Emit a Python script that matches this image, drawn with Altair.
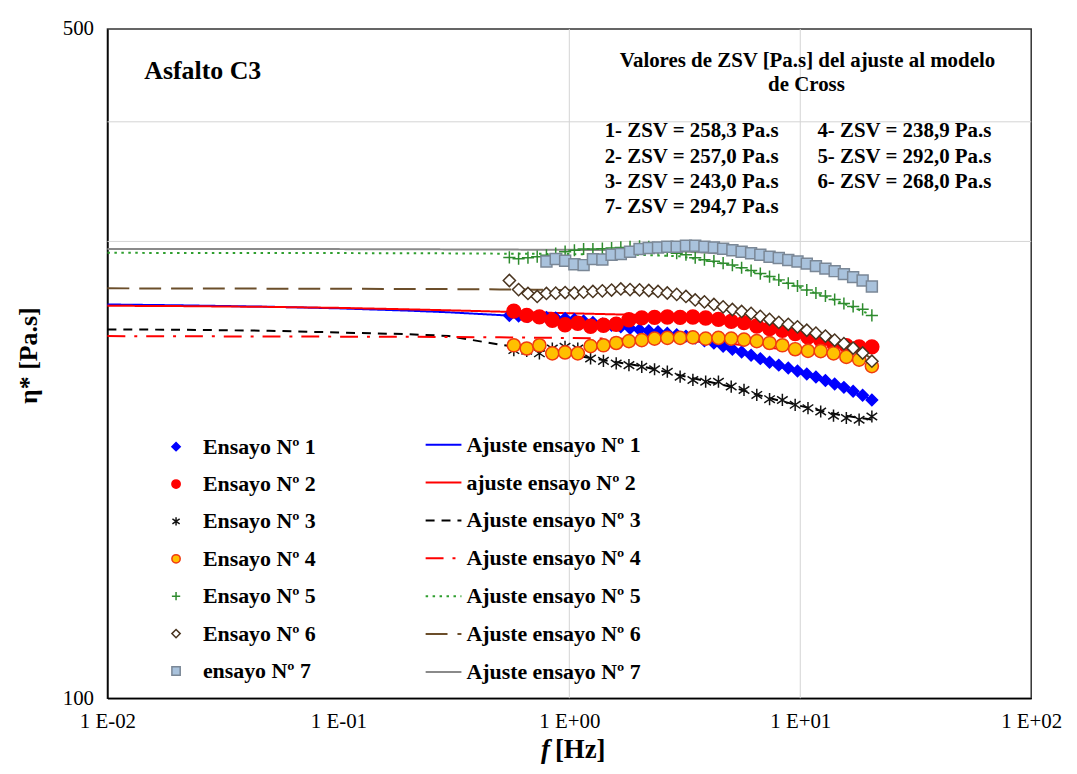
import altair as alt
import pandas as pd

# ---------------- data ----------------
# frequencies [Hz] of the measured points
F29 = [0.575, 0.654, 0.742, 0.844, 0.958, 1.088, 1.236, 1.405, 1.596, 1.812,
       2.059, 2.339, 2.657, 3.018, 3.428, 3.894, 4.423, 5.023, 5.707, 6.482,
       7.364, 8.366, 9.504, 10.80, 12.26, 13.93, 15.83, 17.98, 20.42]
F40 = [0.550, 0.603, 0.662, 0.726, 0.796, 0.873, 0.959, 1.052, 1.153, 1.265,
       1.390, 1.524, 1.671, 1.832, 2.014, 2.208, 2.421, 2.655, 2.917, 3.199,
       3.508, 3.846, 4.227, 4.634, 5.082, 5.572, 6.124, 6.714, 7.362, 8.072,
       8.872, 9.727, 10.67, 11.69, 12.85, 14.09, 15.45, 16.94, 18.62, 20.42]

S1 = [251.1, 250.8, 250.5, 250.2, 249.9, 249.6, 249.3, 248.7, 247.8, 246.9,
      246.0, 245.2, 244.3, 243.4, 242.6, 242.0, 241.4, 240.6, 239.7, 238.9,
      237.8, 236.3, 234.9, 233.2, 231.5, 229.9, 228.2, 226.3, 224.4, 222.8,
      221.3, 219.7, 218.1, 216.5, 214.7, 212.9, 211.2, 209.2, 207.2, 204.9]
S2 = [253.7, 251.1, 250.2, 248.1, 245.5, 246.4, 244.6, 245.2, 245.8, 248.5,
      249.6, 249.9, 250.1, 249.9, 250.1, 249.5, 248.7, 247.5, 246.8, 244.8,
      243.3, 242.3, 240.4, 238.4, 236.6, 234.7, 233.4, 232.8, 232.8]
S3 = [231.0, 230.6, 229.2, 231.9, 232.8, 231.9, 226.4, 225.1, 223.7, 222.8,
      221.9, 220.6, 219.3, 216.7, 215.0, 214.1, 214.1, 211.6, 209.9, 207.4,
      205.3, 204.9, 202.5, 200.9, 199.3, 197.3, 196.2, 195.4, 196.9]
S4 = [233.7, 231.9, 233.7, 229.2, 229.7, 229.2, 233.2, 233.7, 235.0, 236.0,
      236.6, 237.5, 237.9, 237.9, 238.2, 237.5, 237.9, 237.5, 236.9, 236.0,
      235.0, 233.7, 231.5, 230.6, 230.4, 229.2, 227.3, 225.8, 222.3]
S5 = [288.7, 287.8, 288.5, 289.2, 290.2, 291.3, 292.7, 293.7, 294.6, 294.6,
      294.8, 295.3, 295.7, 296.2, 296.5, 296.2, 294.8, 293.4, 291.6, 290.6,
      288.5, 287.1, 286.1, 284.7, 283.4, 281.6, 279.7, 277.7, 275.7, 273.5,
      271.3, 269.5, 266.9, 265.0, 263.1, 260.9, 258.4, 256.6, 254.8, 251.1]
S6 = [273.1, 267.2, 264.7, 262.8, 264.7, 264.9, 265.3, 265.0, 265.5, 266.0,
      266.4, 266.9, 267.6, 267.2, 267.0, 266.6, 266.0, 265.0, 264.1, 262.8,
      260.6, 259.4, 257.8, 256.3, 254.7, 253.5, 252.3, 250.5, 248.7, 246.9,
      245.8, 244.3, 242.3, 240.6, 238.9, 236.6, 234.6, 232.1, 229.4, 224.9]
S7 = [285.9, 287.6, 286.4, 284.0, 283.4, 287.5, 287.2, 290.6, 291.0, 292.7,
      294.6, 295.3, 295.7, 296.2, 296.2, 296.9, 296.9, 296.2, 295.7, 294.8,
      293.7, 292.7, 291.6, 290.6, 289.2, 288.3, 286.9, 285.8, 284.4, 282.7,
      281.0, 279.3, 277.3, 275.3, 273.1, 269.2]

# Cross-model fit curves
FIT_F = [0.01, 0.02, 0.05, 0.1, 0.2, 0.3, 0.5, 0.7, 1.0, 1.5, 2.0, 3.0,
         5.0, 7.0, 10.0, 15.0, 20.42]
A1 = [257.8, 257.3, 256.4, 255.4, 254.0, 253.0, 251.3, 250.2, 249.0, 245.5,
      242.8, 239.5, 231.5, 225.0, 218.5, 211.5, 205.0]
A2 = [257.0, 256.8, 256.3, 255.7, 254.8, 254.2, 253.4, 252.9, 252.4, 251.8,
      251.4, 250.6, 248.0, 245.0, 240.0, 235.5, 232.8]
A3 = [242.8, 242.6, 242.0, 241.0, 240.0, 239.0, 234.0, 231.5, 228.5, 225.0,
      222.5, 217.5, 211.5, 206.5, 202.0, 197.5, 195.5]
A4 = [238.9, 238.8, 238.7, 238.6, 238.5, 238.4, 238.2, 238.0, 237.8, 237.5,
      237.2, 236.5, 234.5, 232.5, 230.5, 227.5, 223.0]
A5 = [291.9, 291.8, 291.8, 291.7, 291.6, 291.5, 291.3, 291.2, 291.0, 290.8,
      290.5, 289.5, 283.5, 276.5, 268.5, 259.0, 251.3]
A6 = [268.0, 267.9, 267.8, 267.7, 267.6, 267.5, 267.3, 267.1, 266.8, 266.2,
      265.5, 263.5, 255.5, 249.5, 243.5, 235.5, 226.5]
A7 = [294.6, 294.6, 294.5, 294.5, 294.4, 294.3, 294.2, 294.1, 294.0, 293.8,
      293.6, 293.0, 291.0, 288.5, 284.5, 277.5, 270.0]

ENSAYOS = ["Ensayo Nº 1", "Ensayo Nº 2", "Ensayo Nº 3", "Ensayo Nº 4",
           "Ensayo Nº 5", "Ensayo Nº 6", "ensayo Nº 7"]
AJUSTES = ["Ajuste ensayo Nº 1", "ajuste ensayo Nº 2", "Ajuste ensayo Nº 3",
           "Ajuste ensayo Nº 4", "Ajuste ensayo Nº 5", "Ajuste ensayo Nº 6",
           "Ajuste ensayo Nº 7"]

X_TICKS = [0.01, 0.1, 1, 10, 100]
X_TICK_LABELS = ["1 E-02", "1 E-01", "1 E+00", "1 E+01", "1 E+02"]
Y_TICKS = [100, 500]
Y_GRID = [300, 400]
X_GRID = [1, 10]

PANEL_TITLE = "Asfalto C3"
BOX_TITLE = ["Valores de ZSV [Pa.s] del ajuste al modelo", "de Cross"]
ZSV_COL1 = ["1- ZSV = 258,3 Pa.s", "2- ZSV = 257,0 Pa.s",
            "3- ZSV = 243,0 Pa.s", "7- ZSV = 294,7 Pa.s"]
ZSV_COL2 = ["4- ZSV = 238,9 Pa.s", "5- ZSV = 292,0 Pa.s",
            "6- ZSV = 268,0 Pa.s"]

# ---------------- styles ----------------
FONT = "Liberation Serif"
ASTER = "M0,-1L0,1M-0.87,-0.6L0.87,0.6M-0.87,0.6L0.87,-0.6"
PLUS = "M-1,0L1,0M0,-1L0,1"
SHAPES = ["diamond", "circle", ASTER, "circle", PLUS, "diamond", "square"]
FILLS = ["#0000FF", "#FF0000", "transparent", "#FFC000", "transparent",
         "#FFFFFF", "#A9C2DC"]
STROKES = ["#0000FF", "#FF0000", "#111111", "#F03A10", "#2E8B2E",
           "#4A3520", "#7A8796"]
SIZES = [130, 196, 150, 175, 150, 150, 121]
LCOLORS = ["#0000FF", "#FF0000", "#000000", "#FF0000", "#2E9E2E",
           "#6B4E2A", "#8A8A8A"]
DASHES = [[1, 0], [1, 0], [9, 7], [18, 9, 3, 9], [2.5, 4.5], [22, 10], [1, 0]]

# ---------------- tables ----------------
point_sets = [(F40, S1), (F29, S2), (F29, S3), (F29, S4), (F40, S5),
              (F40, S6), (F40[4:], S7)]
rows = []
for lab, (fs, vs) in zip(ENSAYOS, point_sets):
    for f, v in zip(fs, vs):
        rows.append({"f": f, "eta": v, "serie": lab})
pts = pd.DataFrame(rows)

frows = []
for lab, vs in zip(AJUSTES, [A1, A2, A3, A4, A5, A6, A7]):
    for f, v in zip(FIT_F, vs):
        frows.append({"f": f, "eta": v, "ajuste": lab})
fits = pd.DataFrame(frows)

expr = f"'{X_TICK_LABELS[-1]}'"
for t, l in reversed(list(zip(X_TICKS[:-1], X_TICK_LABELS[:-1]))):
    expr = f"datum.value <= {t * 1.5} ? '{l}' : " + expr

X_ENC = alt.X("f:Q",
              scale=alt.Scale(type="log", domain=[0.01, 100], nice=False),
              axis=alt.Axis(values=X_TICKS, labelExpr=expr, title=None,
                            grid=False, ticks=False, labelFlush=False,
                            labelOverlap=False, labelFont=FONT,
                            labelFontSize=21, labelColor="black",
                            labelPadding=12, domainColor="black",
                            domainWidth=1.5))
Y_ENC = alt.Y("eta:Q",
              scale=alt.Scale(type="log", domain=[100, 500], nice=False),
              axis=alt.Axis(values=Y_TICKS, format="d", title="η* [Pa.s]",
                            grid=False, ticks=False, labelFlush=False,
                            labelOverlap=False, labelFont=FONT,
                            labelFontSize=21, labelColor="black",
                            labelPadding=14, titleFont=FONT, titleFontSize=26,
                            titleFontWeight="bold", titleColor="black",
                            titleX=-79, titleY=328, titleAngle=270,
                            titleAlign="center", titleBaseline="middle",
                            domainColor="black", domainWidth=1.5))

LEG1 = alt.Legend(title=None, orient="none", legendX=58, legendY=409,
                  symbolSize=70, symbolStrokeWidth=1.5, labelOffset=16,
                  rowPadding=15.6, labelFont=FONT, labelFontSize=22,
                  labelFontWeight="bold", labelColor="black", labelLimit=400,
                  padding=0)
LEG2 = alt.Legend(title=None, orient="none", legendX=319, legendY=399,
                  symbolType="stroke", symbolSize=1296, symbolStrokeWidth=2,
                  labelOffset=4, rowPadding=8.1, labelFont=FONT,
                  labelFontSize=22, labelFontWeight="bold",
                  labelColor="black", labelLimit=400, padding=0)

hgrid = alt.Chart(pd.DataFrame({"eta": Y_GRID})).mark_rule(
    color="#d4d4d4", strokeWidth=1).encode(y=Y_ENC)
vgrid = alt.Chart(pd.DataFrame({"f": X_GRID})).mark_rule(
    color="#d4d4d4", strokeWidth=1).encode(x=X_ENC)

lines = alt.Chart(fits).mark_line(strokeWidth=2).encode(
    x=X_ENC, y=Y_ENC,
    color=alt.Color("ajuste:N", scale=alt.Scale(domain=AJUSTES, range=LCOLORS),
                    legend=LEG2),
    strokeDash=alt.StrokeDash("ajuste:N",
                              scale=alt.Scale(domain=AJUSTES, range=DASHES),
                              legend=LEG2),
)

point_layers = []
for i, lab in enumerate(ENSAYOS):
    point_layers.append(
        alt.Chart(pts[pts["serie"] == lab]).mark_point(
            opacity=1, strokeWidth=1.5, size=SIZES[i]).encode(
            x=X_ENC, y=Y_ENC,
            shape=alt.Shape("serie:N",
                            scale=alt.Scale(domain=ENSAYOS, range=SHAPES),
                            legend=LEG1),
            fill=alt.Fill("serie:N",
                          scale=alt.Scale(domain=ENSAYOS, range=FILLS),
                          legend=LEG1),
            stroke=alt.Stroke("serie:N",
                              scale=alt.Scale(domain=ENSAYOS, range=STROKES),
                              legend=LEG1),
        )
    )


def txt(s, x, y, size, align="left", style="normal"):
    return alt.Chart(alt.Data(values=[{"t": s}])).mark_text(
        align=align, baseline="alphabetic", font=FONT, fontSize=size,
        fontWeight="bold", fontStyle=style, color="black").encode(
        x=alt.value(x), y=alt.value(y), text="t:N")


texts = [txt(PANEL_TITLE, 37, 50, 26),
         txt(BOX_TITLE[0], 704, 38, 21, align="center"),
         txt(BOX_TITLE[1], 703, 62, 21, align="center")]
for i, s in enumerate(ZSV_COL1):
    texts.append(txt(s, 500, 109 + i * 25.5, 21))
for i, s in enumerate(ZSV_COL2):
    texts.append(txt(s, 714, 109 + i * 25.5, 21))
texts.append(txt("f", 436, 733, 27, style="italic"))
texts.append(txt("[Hz]", 450, 733, 27))

chart = alt.layer(hgrid, vgrid, lines, *point_layers, *texts).properties(
    width=929, height=673,
    padding={"left": 100, "top": 19, "right": 38, "bottom": 64},
    autosize=alt.AutoSizeParams(type="none"),
).configure_view(stroke="#333333", strokeWidth=1.5)

chart.save("out.html", embed_options={"renderer": "svg", "actions": False})
